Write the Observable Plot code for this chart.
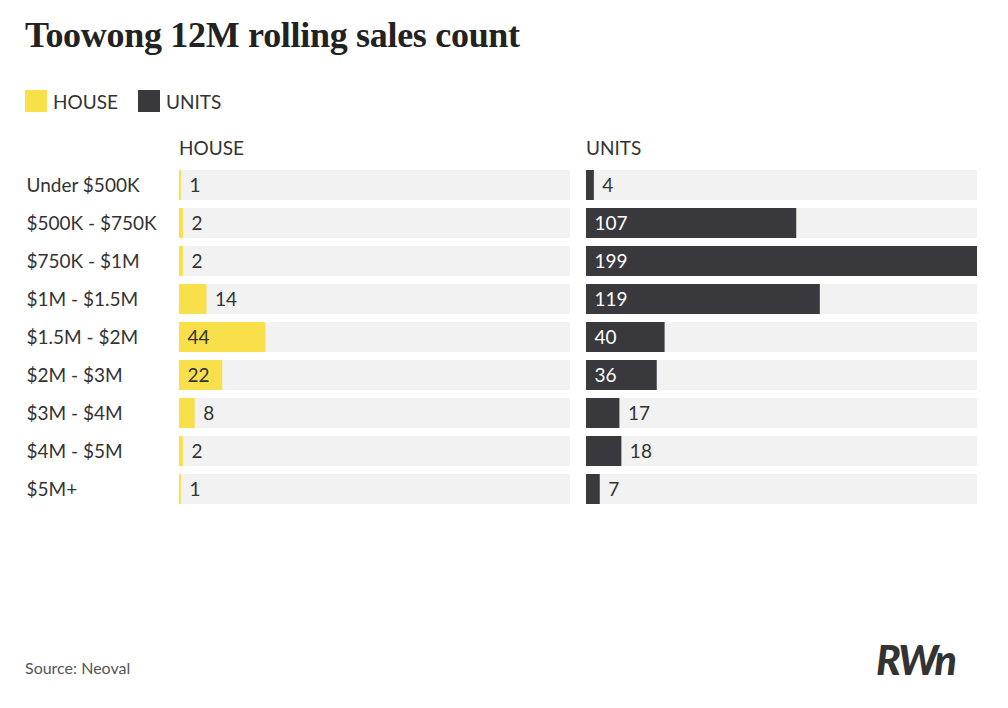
<!DOCTYPE html>
<html><head><meta charset="utf-8">
<script src="https://cdn.jsdelivr.net/npm/d3@7"></script>
<script src="https://cdn.jsdelivr.net/npm/@observablehq/plot@0.6"></script>
<style>
body{margin:0;width:1008px;height:708px;background:#fff;font-family:Lato,sans-serif;color:#333;position:relative;overflow:hidden}
.abs{position:absolute}
#title{left:25px;top:14px;font-family:"Liberation Serif",serif;font-weight:bold;font-size:36px;color:#222;letter-spacing:-0.3px}
.sw{width:22px;height:22px}
.lg{font-size:19px;top:90px}
.hd{font-size:19px;top:136px}
#src{left:25px;top:658px;font-size:16px;color:#555}
#logo{left:876px;top:635px;font-size:41px;font-weight:900;font-style:italic;color:#333;letter-spacing:-2px}
</style></head><body>
<div id="title" class="abs">Toowong 12M rolling sales count</div>
<div class="abs sw" style="left:25px;top:90px;background:#f9e04b"></div>
<div class="abs lg" style="left:53px">HOUSE</div>
<div class="abs sw" style="left:138px;top:90px;background:#38383d"></div>
<div class="abs lg" style="left:166px">UNITS</div>
<div class="abs hd" style="left:179px">HOUSE</div>
<div class="abs hd" style="left:586px">UNITS</div>
<div id="left" class="abs" style="left:0;top:165px"></div>
<div id="right" class="abs" style="left:586px;top:165px"></div>
<div id="src" class="abs">Source: Neoval</div>
<div id="logo" class="abs">RWn</div>
<script>
const categories = ["Under $500K","$500K - $750K","$750K - $1M","$1M - $1.5M","$1.5M - $2M","$2M - $3M","$3M - $4M","$4M - $5M","$5M+"];
const houseValues = [1,2,2,14,44,22,8,2,1];
const unitValues = [4,107,199,119,40,36,17,18,7];
const maxV = 199;

function panel(values, color, insideColor, ml, showLabels){
  const data = categories.map((c,i)=>({c, v:values[i]}));
  const inside = d => d.v >= 20;
  const marks = [
    Plot.barX(data,{y:"c",x1:0,x2:maxV,fill:"#f2f2f2"}),
    Plot.barX(data,{y:"c",x1:0,x2:"v",fill:color}),
    Plot.text(data.filter(inside),{y:"c",x:0,text:d=>String(d.v),textAnchor:"start",dx:8,fill:insideColor,fontSize:19}),
    Plot.text(data.filter(d=>!inside(d)),{y:"c",x:"v",text:d=>String(d.v),textAnchor:"start",dx:8,fill:"#333",fontSize:19})
  ];
  if(showLabels) marks.push(Plot.text(data,{y:"c",text:"c",frameAnchor:"left",textAnchor:"start",dx:-153,fill:"#333",fontSize:19}));
  return Plot.plot({
    width: ml+391, height:345, marginLeft:ml, marginRight:0, marginTop:0, marginBottom:0,
    x:{domain:[0,maxV],axis:null},
    y:{domain:categories,axis:null,paddingInner:0.2,paddingOuter:0.1},
    style:{fontFamily:"Lato, sans-serif",overflow:"visible"},
    marks
  });
}
document.getElementById("left").append(panel(houseValues,"#f9e04b","#333",179,true));
document.getElementById("right").append(panel(unitValues,"#38383d","#fff",0,false));
</script>
</body></html>
